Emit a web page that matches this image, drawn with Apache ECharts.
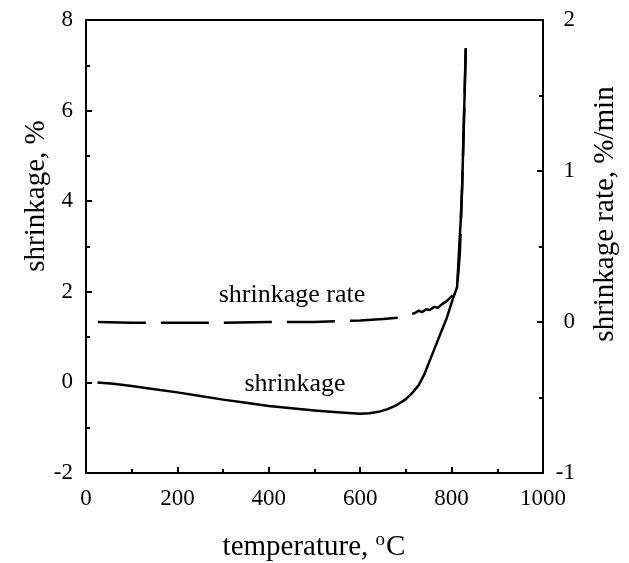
<!DOCTYPE html>
<html>
<head>
<meta charset="utf-8">
<script src="https://cdn.jsdelivr.net/npm/echarts@6/dist/echarts.min.js"></script>
<style>
  html, body { margin: 0; padding: 0; background: #fff; }
  #main { width: 629px; height: 563px; }
</style>
</head>
<body>
<div id="main"></div>
<script>
// shrinkage curve (left axis, %)
var shrinkTemp = [25, 60, 100, 150, 200, 250, 300, 350, 400, 450, 500, 550, 600, 620, 640, 660, 680, 700, 715, 728, 740, 760, 775, 790, 803, 812, 816, 820, 823, 827, 831];
var shrinkVal  = [0, -0.03, -0.08, -0.15, -0.22, -0.3, -0.38, -0.45, -0.52, -0.57, -0.62, -0.66, -0.69, -0.68, -0.65, -0.59, -0.50, -0.37, -0.22, -0.06, 0.17, 0.68, 1.06, 1.44, 1.85, 2.1, 2.86, 3.6, 4.31, 5.79, 7.38];

// shrinkage rate curve (right axis, %/min)
var rateTemp = [26, 100, 200, 300, 400, 500, 600, 650, 690, 720, 728, 735, 745, 752, 762, 770, 780, 790, 800, 808, 812, 818, 823, 827, 831];
var rateVal  = [0, -0.005, -0.005, -0.005, 0, 0, 0.01, 0.02, 0.03, 0.06, 0.075, 0.065, 0.085, 0.08, 0.1, 0.095, 0.12, 0.14, 0.17, 0.2, 0.225, 0.45, 0.89, 1.34, 1.81];

var FONT = 'Liberation Serif';

function pairs(xs, ys) {
  var out = [];
  for (var i = 0; i < xs.length; i++) out.push([xs[i], ys[i]]);
  return out;
}

var tickStyle = { color: '#000', width: 2 };

var myChart = echarts.init(document.getElementById('main'));
var option = {
  backgroundColor: '#fff',
  animation: false,
  grid: {
    left: 86, right: 86, top: 20, bottom: 90,
    show: true, borderColor: '#000', borderWidth: 2
  },
  xAxis: {
    type: 'value', min: 0, max: 1000, interval: 200,
    axisLine: { onZero: false, lineStyle: { color: '#000', width: 2 } },
    axisTick: { inside: true, length: 6, lineStyle: tickStyle },
    minorTick: { show: true, splitNumber: 2, length: 4, lineStyle: tickStyle },
    splitLine: { show: false },
    axisLabel: {
      color: '#000', fontFamily: FONT, fontSize: 23, margin: 14,
      formatter: function (v) { return String(v); }
    }
  },
  yAxis: [{
    type: 'value', min: -2, max: 8, interval: 2, position: 'left',
    axisLine: { show: true, onZero: false, lineStyle: { color: '#000', width: 2 } },
    axisTick: { show: true, inside: true, length: 6, lineStyle: tickStyle },
    minorTick: { show: true, splitNumber: 2, length: 4, lineStyle: tickStyle },
    splitLine: { show: false },
    axisLabel: { color: '#000', fontFamily: FONT, fontSize: 23, margin: 13 }
  }, {
    type: 'value', min: -1, max: 2, interval: 1, position: 'right',
    axisLine: { show: true, onZero: false, lineStyle: { color: '#000', width: 2 } },
    axisTick: { show: true, inside: true, length: 6, lineStyle: tickStyle },
    minorTick: { show: true, splitNumber: 2, length: 4, lineStyle: tickStyle },
    splitLine: { show: false },
    axisLabel: { color: '#000', fontFamily: FONT, fontSize: 23, margin: 32, align: 'right' }
  }],
  series: [{
    name: 'shrinkage',
    type: 'line',
    yAxisIndex: 0,
    showSymbol: false,
    lineStyle: { color: '#000', width: 2.5, join: 'round' },
    data: pairs(shrinkTemp, shrinkVal)
  }, {
    name: 'shrinkage rate',
    type: 'line',
    yAxisIndex: 1,
    showSymbol: false,
    lineStyle: { color: '#000', width: 2.5, type: [48, 15] },
    data: pairs(rateTemp, rateVal)
  }],
  graphic: [{
    type: 'text', x: 314, y: 547,
    style: {
      text: 'temperature, {sup|o}C', fill: '#000', font: '29px "Liberation Serif"',
      align: 'center', verticalAlign: 'middle',
      rich: { sup: { fontFamily: FONT, fontSize: 19, padding: [0, 1, 14, 0] } }
    }
  }, {
    type: 'text', x: 36, y: 196, rotation: Math.PI / 2,
    style: {
      text: 'shrinkage, %', fill: '#000', font: '29px "Liberation Serif"',
      align: 'center', verticalAlign: 'middle'
    }
  }, {
    type: 'text', x: 605, y: 214, rotation: Math.PI / 2,
    style: {
      text: 'shrinkage rate, %/min', fill: '#000', font: '29px "Liberation Serif"',
      align: 'center', verticalAlign: 'middle'
    }
  }, {
    type: 'text', x: 292, y: 295,
    style: {
      text: 'shrinkage rate', fill: '#000', font: '26px "Liberation Serif"',
      align: 'center', verticalAlign: 'middle'
    }
  }, {
    type: 'text', x: 295, y: 384,
    style: {
      text: 'shrinkage', fill: '#000', font: '26px "Liberation Serif"',
      align: 'center', verticalAlign: 'middle'
    }
  }]
};
myChart.setOption(option);
</script>
</body>
</html>
